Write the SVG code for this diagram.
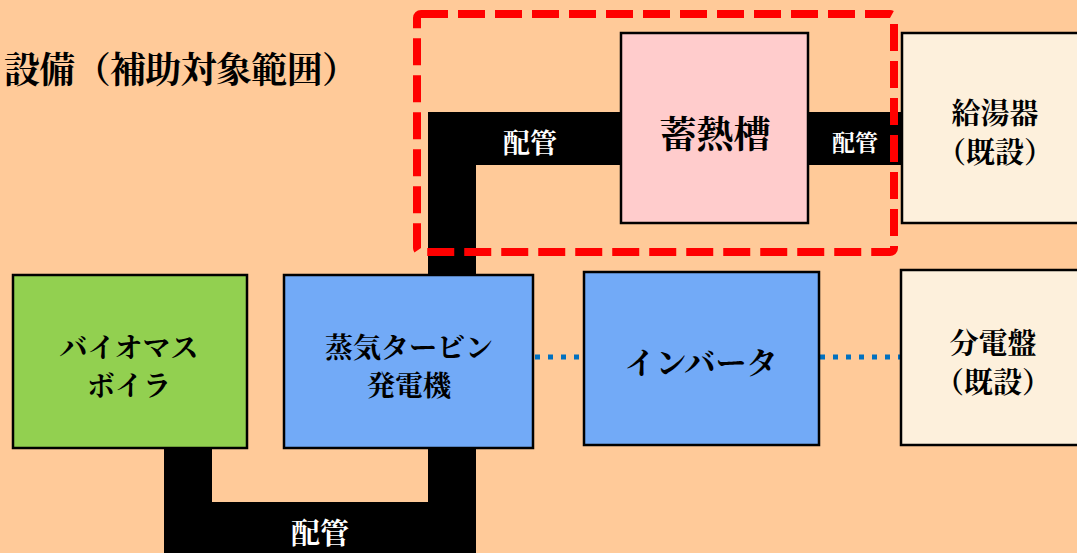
<svg xmlns="http://www.w3.org/2000/svg" width="1077" height="553" viewBox="0 0 1077 553">
<style>
text{font-family:"Noto Serif CJK JP","Noto Sans CJK JP",serif;font-weight:bold;text-anchor:middle;dominant-baseline:central}
.box{stroke:#000;stroke-width:2.5}
.pipe{fill:#000}
.pl{fill:#fff;font-size:27px}
.t{fill:#000;font-size:28px}
.t2{fill:#000;font-size:29px}
.dot{stroke:#0070C0;stroke-width:5;stroke-dasharray:5 8;fill:none}
</style>
<rect width="1077" height="553" fill="#FFCA99"/>
<text x="4" y="67" style="text-anchor:start;font-size:36px" textLength="354" lengthAdjust="spacing">設備（補助対象範囲）</text>
<g id="connectors">
<path class="pipe" d="M428 112H621V165H476V276H428Z"/>
<rect class="pipe" x="806" y="112" width="97" height="53"/>
<path class="pipe" d="M164 447H212V502H428V447H476V553H164Z"/>
<text class="pl" x="530" y="141">配管</text>
<text class="pl" x="855" y="141" style="font-size:23px">配管</text>
<text class="pl" x="320" y="531" style="font-size:29px">配管</text>
<line class="dot" x1="535" y1="357" x2="584" y2="357"/>
<line class="dot" x1="820" y1="357" x2="901" y2="357"/>
</g>
<g id="tank">
<rect class="box" x="621" y="33" width="187" height="190" fill="#FFCCCC"/>
<text x="715" y="132" style="font-size:37px">蓄熱槽</text>
</g>
<g id="heater">
<rect class="box" x="902" y="33" width="185" height="190" fill="#FDF0DC"/>
<text class="t2" x="995" y="111">給湯器</text>
<text class="t2" x="995" y="150">（既設）</text>
</g>
<g id="boiler">
<rect class="box" x="13" y="275" width="234" height="173" fill="#92D050"/>
<text class="t" x="129" y="346">バイオマス</text>
<text class="t" x="129" y="384">ボイラ</text>
</g>
<g id="turbine">
<rect class="box" x="284" y="275" width="249" height="173" fill="#72AAF7"/>
<text class="t" x="409" y="346">蒸気タービン</text>
<text class="t" x="409" y="384">発電機</text>
</g>
<g id="inverter">
<rect class="box" x="584" y="272" width="235" height="173" fill="#72AAF7"/>
<text class="t" x="701" y="360" style="font-size:31px">インバータ</text>
</g>
<g id="panel">
<rect class="box" x="901" y="270" width="186" height="175" fill="#FDF0DC"/>
<text class="t2" x="993" y="341">分電盤</text>
<text class="t2" x="993" y="380">（既設）</text>
</g>
<g id="scope">
<rect x="417" y="14" width="477" height="238" rx="4" fill="none" stroke="#FF0000" stroke-width="8" stroke-dasharray="27 10"/>
</g>
</svg>
